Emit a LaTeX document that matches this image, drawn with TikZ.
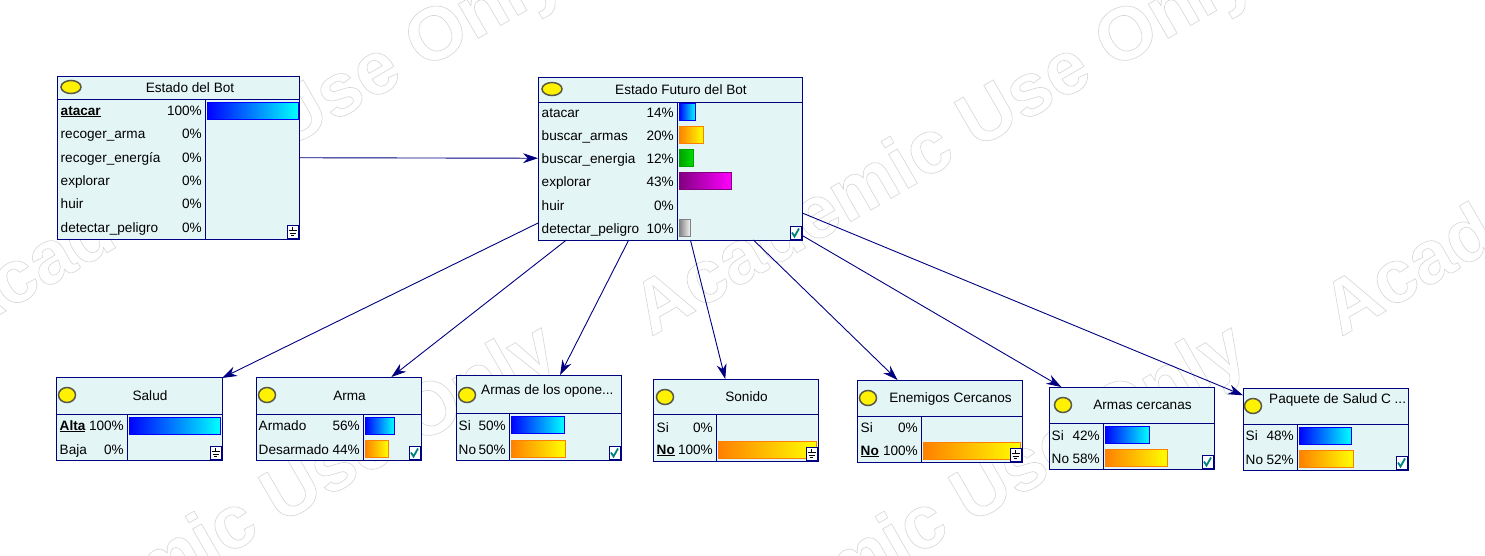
\documentclass[tikz,border=0pt]{standalone}
\usepackage{fontspec}
\setmainfont{Liberation Sans}
\usetikzlibrary{arrows.meta}

\definecolor{nodefill}{RGB}{228,245,245}
\definecolor{navy}{RGB}{0,0,128}
\definecolor{bulbline}{RGB}{90,90,70}
\definecolor{checkteal}{RGB}{0,128,128}
\definecolor{orangeA}{RGB}{255,128,0}
\definecolor{greenA}{RGB}{0,160,0}
\definecolor{greenB}{RGB}{0,220,0}
\definecolor{purpleA}{RGB}{128,0,128}
\definecolor{purpleB}{RGB}{255,0,255}

% box with header line and divider: name, x1, y1, x2, y2, header y, divider x
\newcommand{\bnbox}[7]{%
  \node[netnode, minimum width={#4-#2}, minimum height={#5-#3}] (#1) at ({(#2+#4)/2},{(#3+#5)/2}) {};
  \draw[netline] (#2,#6) -- (#4,#6) (#7,#6) -- (#7,#5);}
% state row: name, x1, divider x, row centre y, state, percent
\newcommand{\bnrow}[6]{%
  \node[statetext, anchor=base west] (#1-s) at (#2+3.5,#4+5) {#5};
  \node[statetext, anchor=base east] (#1-p) at (#3-3,#4+5) {#6};}
% bar: divider x, row centre y, length, style
\newcommand{\bnbar}[4]{\draw[#4] (#1+2,#2-8.5) rectangle ++(#3,17);}
\newcommand{\bnbulb}[4]{\draw[bulb] (#1,#2) ellipse [x radius=#3, y radius=#4];}
% icons in the lower right corner: x2, y2
\newcommand{\evidenceicon}[2]{%
  \draw[iconbox] (#1-12,#2-14) rectangle (#1-1,#2-1);
  \draw[line width=0.8pt] (#1-6.5,#2-12) -- (#1-6.5,#2-8.5)
    (#1-10.5,#2-8.5) -- (#1-2.5,#2-8.5) (#1-9.5,#2-6) -- (#1-3.5,#2-6) (#1-8,#2-3.5) -- (#1-5,#2-3.5);}
\newcommand{\checkicon}[2]{%
  \draw[iconbox] (#1-12,#2-14) rectangle (#1-1,#2-1);
  \draw[checkteal, line width=1.8pt] (#1-10,#2-7.5) -- (#1-7.5,#2-3.5) -- (#1-3,#2-11.5);}
\newcommand{\wmoutline}[1]{\special{pdf:literal direct 1 Tr 0.6 w}#1\special{pdf:literal direct 0 Tr}}

\begin{document}
\begin{tikzpicture}[x=1pt, y=-1pt,
  >={Stealth[length=15pt,width=10pt]},
  netnode/.style={draw=navy, line width=1pt, fill=nodefill, inner sep=0pt, outer sep=0pt},
  netline/.style={navy, line width=1pt},
  netedge/.style={navy, line width=0.9pt},
  statetext/.style={font=\fontsize{13.6}{16}\selectfont, inner sep=0pt},
  titletext/.style={font=\fontsize{13.6}{16}\selectfont, inner sep=0pt},
  bulb/.style={draw=bulbline, line width=1.5pt, fill=yellow},
  iconbox/.style={draw=navy, line width=0.8pt, fill=white},
  bluebar/.style={draw=blue, line width=0.8pt, left color=blue, right color=cyan},
  orangebar/.style={draw=orangeA, line width=0.8pt, left color=orangeA, right color=yellow},
  greenbar/.style={draw=greenA, line width=0.8pt, left color=greenA, right color=greenB},
  purplebar/.style={draw=purpleA, line width=0.8pt, left color=purpleA, right color=purpleB},
  graybar/.style={draw=gray, line width=0.8pt, left color=gray, right color=black!5},
  watermark/.style={font=\fontsize{75}{80}\selectfont\bfseries, text=black!16, inner sep=0pt,
    anchor=base west, rotate=30}]

\useasboundingbox (0,0) rectangle (1485,555);
\fill[white] (0,0) rectangle (1485,555);

% watermark
\begin{scope}
\clip (0,0) rectangle (1485,555);
\node[watermark] (wm1) at (-39,337) {\wmoutline{Academic Use Only}};
\node[watermark] (wm2) at (651,337) {\wmoutline{Academic Use Only}};
\node[watermark] (wm3) at (1341,337) {\wmoutline{Academic Use Only}};
\node[watermark] (wm4) at (-45,712) {\wmoutline{Academic Use Only}};
\node[watermark] (wm5) at (645,712) {\wmoutline{Academic Use Only}};
\end{scope}

% Estado del Bot
\bnbox{bot}{57}{76}{299}{239}{99}{205}
\bnbulb{71}{87}{10}{6.5}
\node[titletext, anchor=base] (bot-t) at (190,92) {Estado del Bot};
\bnrow{bot1}{57}{205}{110}{\underline{\textbf{atacar}}}{100\%}
\bnrow{bot2}{57}{205}{133}{recoger\_arma}{0\%}
\bnrow{bot3}{57}{205}{157}{recoger\_energía}{0\%}
\bnrow{bot4}{57}{205}{180}{explorar}{0\%}
\bnrow{bot5}{57}{205}{203}{huir}{0\%}
\bnrow{bot6}{57}{205}{227}{detectar\_peligro}{0\%}
\bnbar{205}{110.5}{91}{bluebar}
\evidenceicon{299}{239}

% Estado Futuro del Bot
\bnbox{fut}{538}{77}{802}{240}{102}{677}
\bnbulb{552}{89}{10}{6.5}
\node[titletext, anchor=base] (fut-t) at (681,94) {Estado Futuro del Bot};
\bnrow{fut1}{538}{677}{112}{atacar}{14\%}
\bnrow{fut2}{538}{677}{135}{buscar\_armas}{20\%}
\bnrow{fut3}{538}{677}{158}{buscar\_energia}{12\%}
\bnrow{fut4}{538}{677}{181}{explorar}{43\%}
\bnrow{fut5}{538}{677}{205}{huir}{0\%}
\bnrow{fut6}{538}{677}{228}{detectar\_peligro}{10\%}
\bnbar{677}{112}{16}{bluebar}
\bnbar{677}{135}{24}{orangebar}
\bnbar{677}{158}{14}{greenbar}
\bnbar{677}{181}{52}{purplebar}
\bnbar{677}{228}{11}{graybar}
\checkicon{802}{240}

% Salud
\bnbox{salud}{56}{377}{222}{460}{414}{127}
\bnbulb{67}{395}{8.5}{7.5}
\node[titletext, anchor=base] (salud-t) at (150,400) {Salud};
\bnrow{salud1}{56}{127}{425}{\underline{\textbf{Alta}}}{100\%}
\bnrow{salud2}{56}{127}{449}{Baja}{0\%}
\bnbar{127}{425.5}{91}{bluebar}
\evidenceicon{222}{460}

% Arma
\bnbox{arma}{256}{377}{421}{460}{414}{363}
\bnbulb{267}{395}{8.5}{7.5}
\node[titletext, anchor=base] (arma-t) at (349.5,400) {Arma};
\bnrow{arma1}{255}{363}{425}{Armado}{56\%}
\bnrow{arma2}{255}{363}{449}{Desarmado}{44\%}
\bnbar{363}{425.5}{29}{bluebar}
\bnbar{363}{449}{23}{orangebar}
\checkicon{421}{460}

% Armas de los oponentes
\bnbox{opon}{456}{375}{621}{460}{413}{509}
\bnbulb{467}{395}{8.5}{7.5}
\node[titletext, anchor=base west] (opon-t) at (481,394) {Armas de los opone...};
\bnrow{opon1}{455}{509}{425}{Si}{50\%}
\bnrow{opon2}{455}{509}{449}{No}{50\%}
\bnbar{509}{425}{53}{bluebar}
\bnbar{509}{449}{54}{orangebar}
\checkicon{621}{460}

% Sonido
\bnbox{sonido}{653}{379}{818}{461}{414}{716}
\bnbulb{665}{397}{8.5}{7.5}
\node[titletext, anchor=base] (sonido-t) at (746.5,401) {Sonido};
\bnrow{sonido1}{653}{716}{427}{Si}{0\%}
\bnrow{sonido2}{653}{716}{449}{\underline{\textbf{No}}}{100\%}
\bnbar{716}{449.5}{98}{orangebar}
\evidenceicon{818}{461}

% Enemigos Cercanos
\bnbox{enem}{857}{380}{1022}{462}{416}{921}
\bnbulb{868}{398}{8.5}{7.5}
\node[titletext, anchor=base] (enem-t) at (950.5,402) {Enemigos Cercanos};
\bnrow{enem1}{857}{921}{427}{Si}{0\%}
\bnrow{enem2}{857}{921}{450}{\underline{\textbf{No}}}{100\%}
\bnbar{921}{451}{97}{orangebar}
\evidenceicon{1022}{462}

% Armas cercanas
\bnbox{armcer}{1049}{387}{1214}{469}{423}{1103}
\bnbulb{1063}{405}{8.5}{7.5}
\node[titletext, anchor=base] (armcer-t) at (1142.5,409) {Armas cercanas};
\bnrow{armcer1}{1048}{1103}{435}{Si}{42\%}
\bnrow{armcer2}{1048}{1103}{458}{No}{58\%}
\bnbar{1103}{435}{44}{bluebar}
\bnbar{1103}{457.5}{62}{orangebar}
\checkicon{1214}{469}

% Paquete de Salud Cercano
\bnbox{paq}{1243}{388}{1408}{470}{424}{1297}
\bnbulb{1253}{406}{8.5}{7.5}
\node[titletext, anchor=base west] (paq-t) at (1269,403) {Paquete de Salud C ...};
\bnrow{paq1}{1242}{1297}{435}{Si}{48\%}
\bnrow{paq2}{1242}{1297}{459}{No}{52\%}
\bnbar{1297}{436}{52}{bluebar}
\bnbar{1297}{458.5}{54}{orangebar}
\checkicon{1408}{470}

\path[->, netedge]
  (bot) edge (fut)
  (fut) edge (salud)
  (fut) edge (arma)
  (fut) edge (opon)
  (fut) edge (sonido)
  (fut) edge (enem)
  (fut) edge (armcer)
  (fut) edge (paq)
;
\end{tikzpicture}
\end{document}
